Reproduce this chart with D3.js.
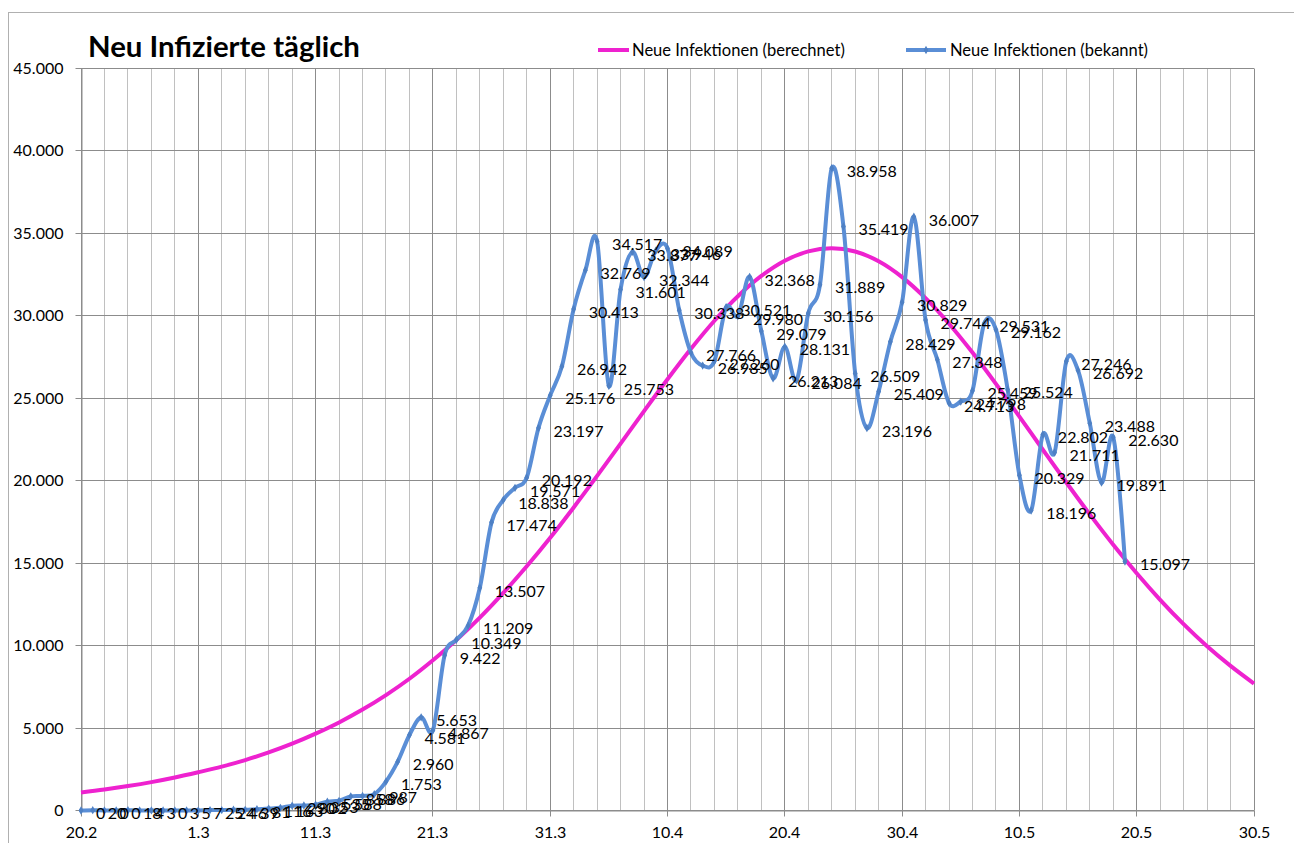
<!DOCTYPE html>
<html>
<head>
<meta charset="utf-8">
<script src="https://cdn.jsdelivr.net/npm/d3@7"></script>
<style>
  html, body { margin: 0; padding: 0; background: #fff; }
  svg { display: block; }
  text { font-family: Lato, "Open Sans", "Liberation Sans", sans-serif; fill: #000; }
</style>
</head>
<body>
<svg id="chart" width="1294" height="843"></svg>
<script>
// ---------------- data ----------------
const chartTitle = "Neu Infizierte täglich";
const seriesNames = ["Neue Infektionen (berechnet)", "Neue Infektionen (bekannt)"];
const startDate = "2020-02-20";   // first category (20.2)
const endDate = "2020-05-30";     // last axis tick (30.5)
const xTickLabels = ["20.2", "1.3", "11.3", "21.3", "31.3", "10.4", "20.4", "30.4", "10.5", "20.5", "30.5"];
const yTickValues = [0, 5000, 10000, 15000, 20000, 25000, 30000, 35000, 40000, 45000];

// daily known new infections, 20.2 ... 19.5
const knownCases = [
  0, 20, 0, 0, 18, 4, 3, 0, 3, 5,
  7, 25, 24, 46, 39, 81, 116, 163, 290, 302,
  353, 535, 588, 858, 886, 987, 1753, 2960, 4581, 5653,
  4867, 9422, 10349, 11209, 13507, 17474, 18838, 19571, 20192, 23197,
  25176, 26942, 30413, 32769, 34517, 25753, 31601, 33877, 32344, 33946,
  34089, 30338, 27766, 26985, 27260, 30521, 29980, 32368, 29079, 26213,
  28131, 26084, 30156, 31889, 38958, 35419, 26509, 23196, 25409, 28429,
  30829, 36007, 29744, 27348, 24713, 24798, 25459, 29531, 29162, 25524,
  20329, 18196, 22802, 21711, 27246, 26692, 23488, 19891, 22630, 15097
];

// computed curve, read every second day, 20.2 ... 30.5
const computedCases = [
  1090, 1270, 1480, 1720, 2000, 2320, 2660, 3060, 3520, 4050,
  4660, 5340, 6120, 7000, 7990, 9110, 10340, 11700, 13200, 14810,
  16540, 18380, 20290, 22250, 24220, 26150, 28000, 29700, 31190, 32420,
  33340, 33910, 34100, 33900, 33310, 32350, 31070, 29520, 27770, 25870,
  23890, 21880, 19890, 17960, 16120, 14390, 12780, 11300, 9960, 8770,
  7700
];

// ---------------- setup ----------------
const svg = d3.select("#chart");
const W = 1294, H = 843;
const plot = { left: 81, right: 1254, top: 68.5, bottom: 810.5 };

const parse = d3.utcParse("%Y-%m-%d");
const t0 = parse(startDate), t1 = parse(endDate);
const dayAt = i => d3.utcDay.offset(t0, i);

const x = d3.scaleUtc().domain([t0, t1]).range([plot.left, plot.right]);
const y = d3.scaleLinear().domain([0, 45000]).range([plot.bottom, plot.top]);

const de = d3.formatLocale({ decimal: ",", thousands: ".", grouping: [3], currency: ["", "€"] });
const fmt = de.format(",d");

const crisp = v => Math.round(v - 0.5) + 0.5;

const colBlue = "#5A8ED6";
const colMagenta = "#EE22CF";
const gridMajor = "#8C8C8C";
const gridMinor = "#C0C0C0";

// outer frame
svg.append("rect")
  .attr("x", 8.5).attr("y", 12.5)
  .attr("width", W + 20).attr("height", H + 20)
  .attr("fill", "#fff").attr("stroke", "#B0B0B0").attr("stroke-width", 1);

// ---------------- grid ----------------
const totalDays = d3.utcDay.count(t0, t1);
const minorDays = d3.range(0, totalDays + 1, 2).filter(i => i % 10 !== 0);
const majorDays = d3.range(0, totalDays + 1, 10);

const grid = svg.append("g");
grid.selectAll("line.minor").data(minorDays).join("line")
  .attr("class", "minor")
  .attr("x1", i => crisp(x(dayAt(i)))).attr("x2", i => crisp(x(dayAt(i))))
  .attr("y1", plot.top).attr("y2", plot.bottom)
  .attr("stroke", gridMinor).attr("stroke-width", 1);

grid.selectAll("line.hgrid").data(yTickValues).join("line")
  .attr("class", "hgrid")
  .attr("x1", plot.left).attr("x2", plot.right)
  .attr("y1", v => crisp(y(v))).attr("y2", v => crisp(y(v)))
  .attr("stroke", gridMajor).attr("stroke-width", 1);

grid.selectAll("line.major").data(majorDays).join("line")
  .attr("class", "major")
  .attr("x1", i => crisp(x(dayAt(i)))).attr("x2", i => crisp(x(dayAt(i))))
  .attr("y1", plot.top).attr("y2", plot.bottom)
  .attr("stroke", gridMajor).attr("stroke-width", 1);

// ---------------- axes ----------------
const xAxis = d3.axisBottom(x)
  .tickValues(majorDays.map(dayAt))
  .tickFormat((d, i) => xTickLabels[i])
  .tickSize(6).tickSizeOuter(0).tickPadding(10);
const gx = svg.append("g").attr("transform", `translate(0,${crisp(plot.bottom)})`).call(xAxis);
gx.select(".domain").attr("stroke", gridMajor);
gx.selectAll(".tick line").attr("stroke", gridMajor);
gx.selectAll(".tick").attr("transform", d => `translate(${crisp(x(d))},0)`);
gx.selectAll(".tick text").attr("font-size", 16).attr("font-family", "Lato, sans-serif").attr("fill", "#000");

const yAxis = d3.axisLeft(y)
  .tickValues(yTickValues)
  .tickFormat(fmt)
  .tickSize(6).tickSizeOuter(0).tickPadding(12);
const gy = svg.append("g").attr("transform", `translate(${crisp(plot.left)},0)`).call(yAxis);
gy.select(".domain").attr("stroke", gridMajor);
gy.selectAll(".tick").attr("transform", d => `translate(0,${crisp(y(d))})`);
gy.selectAll(".tick line").attr("stroke", gridMajor);
gy.selectAll(".tick text").attr("font-size", 16).attr("font-family", "Lato, sans-serif").attr("fill", "#000").attr("dy", "0.36em");

// ---------------- series ----------------
const computedLine = d3.line()
  .x((v, i) => x(dayAt(i * 2)))
  .y(v => y(v))
  .curve(d3.curveCatmullRom);
svg.append("path")
  .attr("d", computedLine(computedCases))
  .attr("fill", "none").attr("stroke", colMagenta).attr("stroke-width", 4)
  .attr("stroke-linejoin", "round");

const knownLine = d3.line()
  .x((v, i) => x(dayAt(i)))
  .y(v => y(v))
  .curve(d3.curveCardinal.tension(0));
svg.append("path")
  .attr("d", knownLine(knownCases))
  .attr("fill", "none").attr("stroke", colBlue).attr("stroke-width", 4)
  .attr("stroke-linejoin", "round").attr("stroke-linecap", "round");

const diamond = d3.symbol().type(d3.symbolDiamond).size(20);
svg.append("g").selectAll("path").data(knownCases).join("path")
  .attr("d", diamond)
  .attr("transform", (v, i) => `translate(${x(dayAt(i))},${y(v)})`)
  .attr("fill", "#4E80C4");

// data labels
svg.append("g").selectAll("text").data(knownCases).join("text")
  .attr("x", (v, i) => x(dayAt(i)) + 15)
  .attr("y", (v, i) => y(v) + 3)
  .attr("dy", "0.36em")
  .attr("font-size", 16)
  .text(v => fmt(v));

// ---------------- title & legend ----------------
function fitText(sel, target) {
  const n = sel.node();
  const w = n.getComputedTextLength();
  const fs = parseFloat(sel.attr("font-size"));
  sel.attr("font-size", (fs * target / w).toFixed(2));
}

const title = svg.append("text")
  .attr("x", 88).attr("y", 57)
  .attr("font-size", 26).attr("font-weight", "bold")
  .text(chartTitle);
fitText(title, 272);

const legend = svg.append("g");
const legItems = [
  { name: seriesNames[0], color: colMagenta, x1: 598, x2: 629, tx: 632, marker: false, tw: 213 },
  { name: seriesNames[1], color: colBlue, x1: 906, x2: 946, tx: 950, marker: true, tw: 198 }
];
legItems.forEach(it => {
  legend.append("line")
    .attr("x1", it.x1).attr("x2", it.x2).attr("y1", 50).attr("y2", 50)
    .attr("stroke", it.color).attr("stroke-width", 4);
  if (it.marker) {
    legend.append("path").attr("d", diamond)
      .attr("transform", `translate(${(it.x1 + it.x2) / 2},50)`)
      .attr("fill", "#4E80C4");
  }
  const t = legend.append("text")
    .attr("x", it.tx).attr("y", 50).attr("dy", "0.36em")
    .attr("font-size", 15)
    .text(it.name);
  fitText(t, it.tw);
});
</script>
</body>
</html>
